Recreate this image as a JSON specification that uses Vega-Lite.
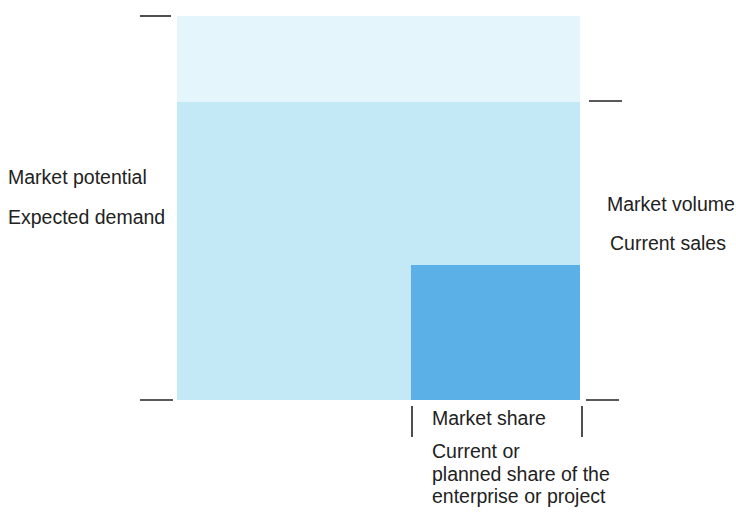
{
  "$schema": "https://vega.github.io/schema/vega-lite/v6.json",
  "width": 736,
  "height": 512,
  "autosize": {"type": "none"},
  "padding": 0,
  "background": "#ffffff",
  "config": {"view": {"stroke": null}},
  "layer": [
    {
      "data": {"values": [
        {"part": "Market potential", "x1": 177, "x2": 580, "y1": 16, "y2": 102},
        {"part": "Market volume", "x1": 177, "x2": 580, "y1": 102, "y2": 400},
        {"part": "Current sales", "x1": 411, "x2": 580, "y1": 265, "y2": 400}
      ]},
      "mark": {"type": "rect"},
      "encoding": {
        "x": {"field": "x1", "type": "quantitative", "scale": {"domain": [0, 736], "nice": false, "zero": false}, "axis": null},
        "x2": {"field": "x2"},
        "y": {"field": "y1", "type": "quantitative", "scale": {"domain": [0, 512], "reverse": true, "nice": false, "zero": false}, "axis": null},
        "y2": {"field": "y2"},
        "color": {"field": "part", "type": "nominal", "legend": null,
          "scale": {"domain": ["Market potential", "Market volume", "Current sales"], "range": ["#e4f5fb", "#c4e9f6", "#5cb0e8"]}}
      }
    },
    {
      "data": {"values": [
        {"x1": 140, "x2": 171, "y1": 16, "y2": 16},
        {"x1": 589, "x2": 622, "y1": 101, "y2": 101},
        {"x1": 140, "x2": 173, "y1": 400, "y2": 400},
        {"x1": 586, "x2": 619, "y1": 400, "y2": 400},
        {"x1": 412, "x2": 412, "y1": 406, "y2": 437},
        {"x1": 582, "x2": 582, "y1": 406, "y2": 437}
      ]},
      "mark": {"type": "rule", "color": "#222222", "strokeWidth": 1.6},
      "encoding": {
        "x": {"field": "x1", "type": "quantitative"},
        "x2": {"field": "x2"},
        "y": {"field": "y1", "type": "quantitative"},
        "y2": {"field": "y2"}
      }
    },
    {
      "data": {"values": [
        {"label": "Market potential", "x": 8, "y": 178},
        {"label": "Expected demand", "x": 8, "y": 218},
        {"label": "Market volume", "x": 607, "y": 205},
        {"label": "Current sales", "x": 610, "y": 244},
        {"label": "Market share", "x": 432, "y": 419},
        {"label": "Current or", "x": 432, "y": 452},
        {"label": "planned share of the", "x": 432, "y": 475},
        {"label": "enterprise or project", "x": 432, "y": 497}
      ]},
      "mark": {"type": "text", "align": "left", "baseline": "middle", "font": "Liberation Sans", "fontSize": 19.5, "color": "#222222"},
      "encoding": {
        "x": {"field": "x", "type": "quantitative"},
        "y": {"field": "y", "type": "quantitative"},
        "text": {"field": "label"}
      }
    }
  ]
}
